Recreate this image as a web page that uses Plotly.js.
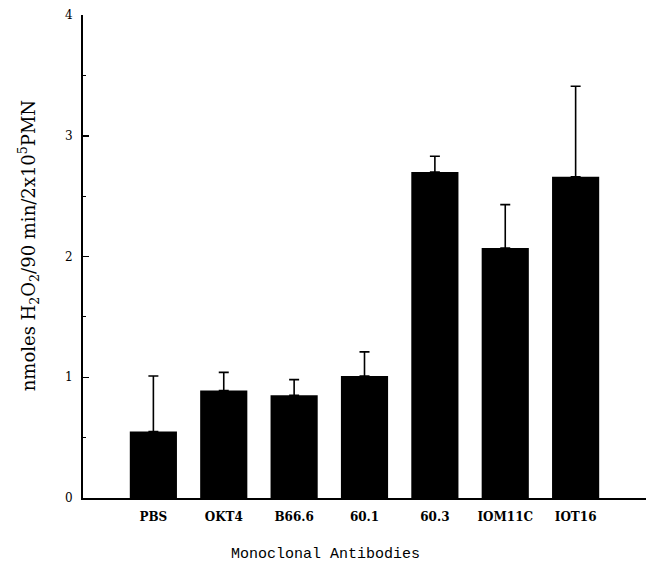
<!DOCTYPE html>
<html>
<head>
<meta charset="utf-8">
<script src="https://cdn.plot.ly/plotly-3.0.1.min.js"></script>
<style>html,body{margin:0;padding:0;background:#fff;}#chart{width:649px;height:569px;}</style>
</head>
<body>
<div id="chart"></div>
<script>
const categories = ["PBS", "OKT4", "B66.6", "60.1", "60.3", "IOM11C", "IOT16"];
const values = [0.55, 0.89, 0.85, 1.01, 2.70, 2.07, 2.66];
const errorsUp = [0.46, 0.15, 0.13, 0.20, 0.13, 0.36, 0.75];
const yTickVals = [0, 1, 2, 3, 4];

const trace = {
  type: 'bar',
  x: categories,
  y: values,
  width: 0.67,
  marker: {color: '#000000', line: {width: 0}},
  error_y: {type: 'data', symmetric: false, array: errorsUp, arrayminus: errorsUp.map(() => 0), color: '#000000', thickness: 1.6, width: 5},
  hoverinfo: 'none'
};

const layout = {
  width: 649, height: 569,
  margin: {l: 83, r: 3, t: 15, b: 71},
  paper_bgcolor: '#ffffff', plot_bgcolor: '#ffffff',
  showlegend: false,
  xaxis: {
    type: 'category', range: [-1, 7],
    showline: true, linecolor: '#000', linewidth: 2,
    ticks: '', showgrid: false, zeroline: false,
    tickfont: {family: 'DejaVu Serif', size: 12, color: '#000', weight: 'bold'},
    ticklabelstandoff: 7
  },
  yaxis: {
    range: [0, 4], tickvals: yTickVals, ticktext: yTickVals.map(String),
    showline: true, linecolor: '#000', linewidth: 2,
    ticks: 'inside', ticklen: 6, tickwidth: 1.5, tickcolor: '#000',
    minor: {dtick: 0.5, ticks: 'inside', ticklen: 3, tickwidth: 1.2, tickcolor: '#000'},
    showgrid: false, zeroline: false,
    tickfont: {family: 'DejaVu Serif', size: 12, color: '#000'},
    ticklabelstandoff: 6
  },
  annotations: [
    {text: 'nmoles H<sub>2</sub>O<sub>2</sub>/90 min/2x10<sup>5</sup>PMN', textangle: -90,
     xref: 'paper', yref: 'paper', x: -0.097, y: 0.522, xanchor: 'center', yanchor: 'middle',
     showarrow: false, font: {family: 'DejaVu Serif', size: 18, color: '#000'}},
    {text: 'Monoclonal Antibodies', xref: 'paper', yref: 'paper', x: 0.43, y: -0.118,
     xanchor: 'center', yanchor: 'middle', showarrow: false,
     font: {family: 'Liberation Mono', size: 15, color: '#000'}}
  ]
};

Plotly.newPlot('chart', [trace], layout, {displayModeBar: false, staticPlot: true});
</script>
</body>
</html>
